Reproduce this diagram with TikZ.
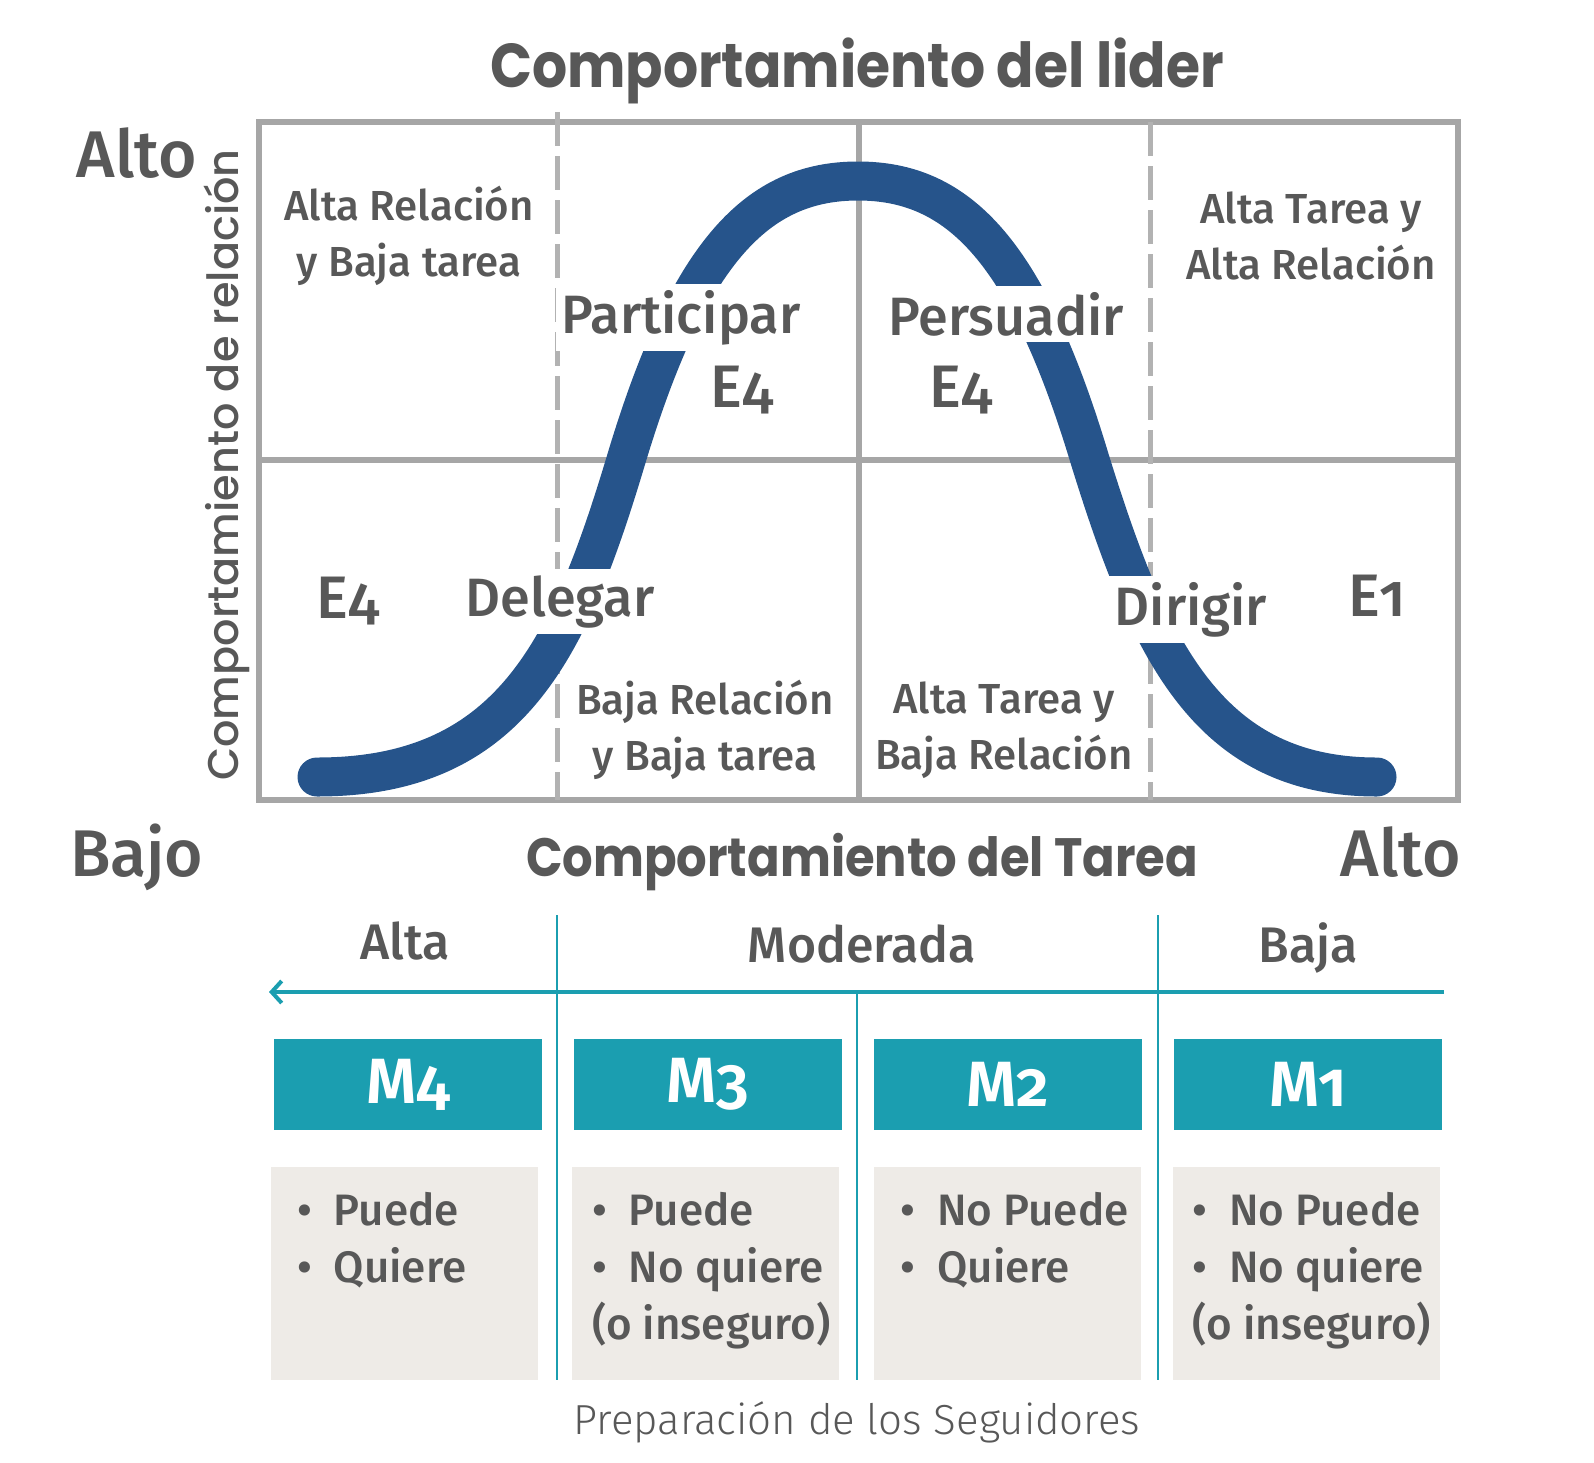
\documentclass[tikz,border=0pt]{standalone}
\usetikzlibrary{arrows.meta}
\usepackage{fontspec}
\newfontfamily\medfont{Fira Sans Medium}[Numbers=OldStyle]
\newfontfamily\semifont{Fira Sans SemiBold}[Numbers=OldStyle]
\newfontfamily\lightfont{Fira Sans Light}
\newfontfamily\headfont{Poppins Bold}[FakeStretch=0.89]
\newfontfamily\sidefont{Poppins Medium}
\definecolor{textgray}{HTML}{585858}
\definecolor{gridgray}{HTML}{A6A6A6}
\definecolor{dashgray}{HTML}{B2B2B2}
\definecolor{curveblue}{HTML}{26548B}
\definecolor{tealc}{HTML}{1B9EB0}
\definecolor{boxgray}{HTML}{EEEBE7}
\tikzset{
  gridline/.style={draw=gridgray, line width=3pt},
  dashline/.style={draw=dashgray, line width=2.5pt, dash pattern=on 17pt off 5pt},
  bellcurve/.style={draw=curveblue, line width=19.5pt, line cap=round},
  headtext/.style={text=textgray, font=\headfont\fontsize{31}{36}\selectfont},
  subhead/.style={text=textgray, font=\headfont\fontsize{27}{32}\selectfont},
  sidetext/.style={text=textgray, font=\sidefont\fontsize{21.5}{26}\selectfont},
  axistext/.style={text=textgray, font=\medfont\fontsize{33}{38}\selectfont},
  quadtext/.style={fill=white, text=textgray, align=center, inner sep=2pt,
    font=\medfont\fontsize{21}{28}\selectfont},
  stylelabel/.style={fill=white, text=textgray, inner sep=3pt,
    font=\medfont\fontsize{27}{32}\selectfont},
  ecode/.style={fill=white, text=textgray, inner sep=2pt,
    font=\medfont\fontsize{30}{34}\selectfont},
  levellabel/.style={text=textgray, font=\medfont\fontsize{25}{29}\selectfont},
  tealline/.style={draw=tealc, line width=2pt},
  tealsep/.style={draw=tealc, line width=1.4pt},
  mbox/.style={fill=tealc, minimum width=134pt, minimum height=45.5pt,
    text=white, font=\semifont\fontsize{32}{36}\selectfont},
  infobox/.style={fill=boxgray, minimum width=133.5pt, minimum height=106.5pt},
  itemtext/.style={text=textgray, align=left, anchor=north west, inner sep=0pt,
    font=\medfont\fontsize{22}{28.5}\selectfont},
  footer/.style={text=textgray, font=\lightfont\fontsize{21}{25}\selectfont}
}
\newcommand{\bul}{\textbullet\hspace{11pt}}
\begin{document}
\begin{tikzpicture}[x=0.5pt, y=-0.5pt]
\useasboundingbox (0,0) rectangle (1594,1462);

\draw[gridline] (259,122) rectangle (1458,800);
\draw[gridline] (259,460) -- (1458,460);
\draw[gridline] (859,122) -- (859,800);
\draw[dashline] (557,112) -- (557,800);
\draw[dashline] (1150,122) -- (1150,800);

\draw[bellcurve] (317,777) .. controls (510,777) and (569,650) .. (626,460)
  .. controls (689,250) and (758,181) .. (858,181)
  .. controls (958,181) and (1027,250) .. (1090,460)
  .. controls (1149,650) and (1208,777) .. (1377,777);

\node[headtext, anchor=base] (title) at (857,87) {Comportamiento del lider};
\node[axistext, anchor=base] (yhigh) at (137,177) {Alto};
\node[sidetext, rotate=90, anchor=base] (ylabel) at (238,465) {Comportamiento de relación};

\node[quadtext] (q3) at (409,236) {Alta Relación\\y Baja tarea};
\node[quadtext] (q2) at (1311,236) {Alta Tarea y\\Alta Relación};
\node[quadtext] (q4) at (705,730) {Baja Relación\\y Baja tarea};
\node[quadtext] (q1) at (1004,730) {Alta Tarea y\\Baja Relación};

\node[stylelabel, anchor=base] (participar) at (681,333) {Participar};
\node[ecode, anchor=base] (e3) at (742,407) {E4};
\node[stylelabel, anchor=base] (persuadir) at (1006,335) {Persuadir};
\node[ecode, anchor=base] (e2) at (961,407) {E4};
\node[ecode, anchor=base] (e4) at (348,618) {E4};
\node[stylelabel, anchor=base] (delegar) at (560,616) {Delegar};
\node[stylelabel, anchor=base] (dirigir) at (1191,625) {Dirigir};
\node[ecode, anchor=base] (e1) at (1377,616) {E1};

\node[axistext, anchor=base] (xlow) at (137,876) {Bajo};
\node[subhead, anchor=base] (xlabel) at (862,876) {Comportamiento del Tarea};
\node[axistext, anchor=base] (xhigh) at (1401,876) {Alto};

\node[levellabel, anchor=base] (alta) at (405,959) {Alta};
\node[levellabel, anchor=base] (moderada) at (862,962) {Moderada};
\node[levellabel, anchor=base] (baja) at (1308,962) {Baja};

\coordinate (arrowR) at (1444,992);
\coordinate (arrowL) at (269,992);
\draw[tealline, -{Straight Barb[length=5pt, width=11pt]}] (arrowR) -- (arrowL);
\draw[tealsep] (557,915) -- (557,1380);
\draw[tealsep] (857,992) -- (857,1380);
\draw[tealsep] (1158,915) -- (1158,1380);

\node[mbox] (m4) at (408,1084.5) {M4};
\node[mbox] (m3) at (708,1084.5) {M3};
\node[mbox] (m2) at (1007.5,1084.5) {M2};
\node[mbox] (m1) at (1308,1084.5) {M1};

\node[infobox] (g4) at (404.5,1273.5) {};
\node[infobox] (g3) at (705.5,1273.5) {};
\node[infobox] (g2) at (1007,1273.5) {};
\node[infobox] (g1) at (1306,1273.5) {};

\node[itemtext] (t4) at ([xshift=13pt, yshift=-12.5pt]g4.north west) {\bul Puede\\\bul Quiere};
\node[itemtext] (t3) at ([xshift=10pt, yshift=-12.5pt]g3.north west) {\bul Puede\\\bul No quiere\\(o inseguro)};
\node[itemtext] (t2) at ([xshift=13.5pt, yshift=-12.5pt]g2.north west) {\bul No Puede\\\bul Quiere};
\node[itemtext] (t1) at ([xshift=10pt, yshift=-12.5pt]g1.north west) {\bul No Puede\\\bul No quiere\\(o inseguro)};

\node[footer, anchor=base] (caption) at (857,1434) {Preparación de los Seguidores};
\end{tikzpicture}
\end{document}
